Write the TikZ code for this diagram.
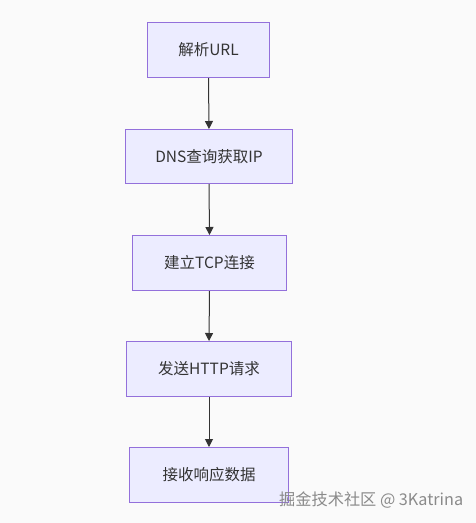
\documentclass[tikz,border=0pt]{standalone}
\usepackage{fontspec}
\setmainfont{Noto Sans CJK SC}
\usetikzlibrary{arrows.meta}
\definecolor{bg}{HTML}{FAFAFA}
\definecolor{boxfill}{HTML}{ECECFF}
\definecolor{boxdraw}{HTML}{9370DB}
\definecolor{txt}{HTML}{333333}
\definecolor{wm}{HTML}{8A8A8A}
\tikzset{
  flowbox/.style={draw=boxdraw, fill=boxfill, line width=1pt, text=txt, font=\fontsize{15.5}{18}\selectfont, inner sep=0pt, anchor=north west},
  flowarrow/.style={draw=txt, line width=1pt, -{Triangle[length=8pt,width=8pt]}},
}
\begin{document}
\begin{tikzpicture}[x=1pt,y=-1pt]
\fill[bg] (0,0) rectangle (476,523);
\useasboundingbox (0,0) rectangle (476,523);
\node[flowbox, minimum width=122pt, minimum height=55pt] (a) at (147,22) {解析URL};
\node[flowbox, minimum width=167pt, minimum height=54pt] (b) at (125,129) {DNS查询获取IP};
\node[flowbox, minimum width=154pt, minimum height=55pt] (c) at (132,235) {建立TCP连接};
\node[flowbox, minimum width=165pt, minimum height=55pt] (d) at (126,341) {发送HTTP请求};
\node[flowbox, minimum width=159pt, minimum height=55pt] (e) at (129,447) {接收响应数据};
\draw[flowarrow] (a.south) -- (b.north);
\draw[flowarrow] (b.south) -- (c.north);
\draw[flowarrow] (c.south) -- (d.north);
\draw[flowarrow] (d.south) -- (e.north);
\node[text=wm, font=\fontsize{16.2}{19}\selectfont, anchor=west, inner sep=0pt] (wmk) at (279,500) {掘金技术社区 @ 3Katrina};
\end{tikzpicture}
\end{document}
